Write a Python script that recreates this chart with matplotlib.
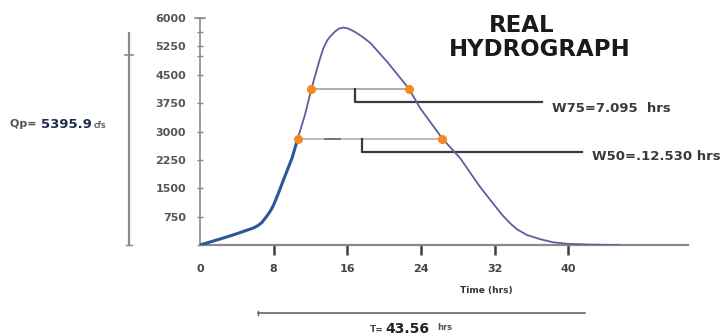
import numpy as np
import matplotlib
matplotlib.use("Agg")
import matplotlib.pyplot as plt

# Observed runoff hydrograph (time in hrs, discharge in cfs)
time_hrs = [0, 1.45, 3, 4.15, 5.2, 5.8, 6.3, 6.7, 7.25, 7.7, 8, 8.5, 9, 9.5,
            10, 10.6, 11.4, 12.1, 13, 13.4, 13.8, 14.1, 14.7, 15.1, 15.6,
            16.1, 16.7, 17.6, 18.5, 20.3, 22.7, 23.9, 26.3, 28.3, 30.4, 32.8,
            33.7, 34.4, 35.5, 37, 38.4, 40, 42.5, 45.5]
flow_cfs = [0, 105, 220, 310, 400, 450, 515, 590, 760, 920, 1060, 1360,
            1680, 1990, 2300, 2800, 3440, 4130, 4900, 5200, 5400, 5500, 5650,
            5720, 5750, 5720, 5650, 5510, 5340, 4850, 4130, 3620, 2820, 2280,
            1540, 800, 570, 420, 265, 150, 70, 30, 10, 0]

x_ticks = [0, 8, 16, 24, 32, 40]
y_ticks = [0, 750, 1500, 2250, 3000, 3750, 4500, 5250, 6000]
y_tick_labels = ["", "750", "1500", "2250", "3000", "3750", "4500", "5250", "6000"]

q_peak = 5395.9
q75_level = 4120
q50_level = 2810
w75_hrs = 7.095
w50_hrs = 12.530
base_time = 43.56

t = np.array(time_hrs, dtype=float)
q = np.array(flow_cfs, dtype=float)
ipk = int(np.argmax(q))


def crossings(level):
    # rising limb and falling limb times at a given discharge
    t_up = np.interp(level, q[:ipk + 1], t[:ipk + 1])
    t_dn = np.interp(level, q[ipk:][::-1], t[ipk:][::-1])
    return t_up, t_dn


W, H = 724, 336
fig = plt.figure(figsize=(W / 100, H / 100), dpi=100)
ax = fig.add_axes([200 / W, 91 / H, 488 / W, 227 / H])
ax.set_xlim(0, 53)
ax.set_ylim(0, 6000)

for s in ["top", "right"]:
    ax.spines[s].set_visible(False)
ax.spines["left"].set_color("#8a8a8a")
ax.spines["bottom"].set_color("#8a8a8a")
ax.spines["left"].set_linewidth(1.2)
ax.spines["bottom"].set_linewidth(1.6)

# hydrograph, darker on the lower rising limb
split = time_hrs.index(10.6)
ax.plot(t[:split + 1], q[:split + 1], color="#2b5797", lw=2.2,
        solid_capstyle="round", solid_joinstyle="round", zorder=3)
ax.plot(t[split:], q[split:], color="#5c5f9f", lw=1.3,
        solid_joinstyle="round", zorder=3)

# W75 / W50 width lines
t75a, t75b = crossings(q75_level)
t50a, t50b = crossings(q50_level)
ax.plot([t75a, t75b], [q75_level, q75_level], color="#a0a0a0", lw=1.2, zorder=2)
ax.plot([t50a, t50b], [q50_level, q50_level], color="#b0b0b0", lw=1.2, zorder=2)
ax.plot([13.6, 15.2], [q50_level, q50_level], color="#666666", lw=1.2, zorder=2)
ax.plot([t75a, t75b, t50a, t50b], [q75_level, q75_level, q50_level, q50_level],
        "o", color="#f5891f", ms=5.5, zorder=4)

# leader brackets to the width labels
ax.plot([16.85, 16.85, 37.1], [q75_level, 3788, 3788], color="#3c3c3c",
        lw=1.6, clip_on=False)
ax.plot([17.6, 17.6, 41.5], [q50_level, 2466, 2466], color="#3c3c3c",
        lw=1.6, clip_on=False)

# y axis ticks
ax.set_yticks(y_ticks)
ax.set_yticklabels(y_tick_labels)
ax.set_yticks([4990, 5625], minor=True)
ax.tick_params(axis="y", which="both", direction="inout", length=4, width=1,
               color="#8a8a8a", pad=8, labelsize=8, labelcolor="#555555")
ax.plot([-0.5, 0.5], [6000, 6000], color="#8a8a8a", lw=1.2, clip_on=False)

# x axis ticks
ax.set_xticks(x_ticks)
ax.tick_params(axis="x", direction="out", length=7, width=1.8,
               color="#404040", pad=7, labelsize=8, labelcolor="#444444")
ax.xaxis.get_major_ticks()[0].tick1line.set_visible(False)
for lab in ax.get_xticklabels() + ax.get_yticklabels():
    lab.set_fontweight("bold")

# peak discharge dimension bar on the left
bar_x = -7.7
ax.plot([bar_x, bar_x], [0, 5604], color="#8a8a8a", lw=1.6, clip_on=False)
ax.plot([bar_x - 0.4, bar_x + 0.4], [5022, 5022], color="#8a8a8a", lw=1.2,
        clip_on=False)
ax.plot([bar_x - 0.3, bar_x + 0.3], [0, 0], color="#8a8a8a", lw=1.0,
        clip_on=False)

# base time dimension bar underneath
ax.plot([6.3, 41.85], [-1797, -1797], color="#666666", lw=1.2, clip_on=False)
ax.plot([6.3, 6.3], [-1850, -1744], color="#666666", lw=1.0, clip_on=False)


def ftext(px, py, s, **kw):
    fig.text(px / W, 1 - py / H, s, **kw)


ftext(522, 25, "REAL", ha="center", va="center", fontsize=16.5,
      fontweight="bold", color="#1a1a1a")
ftext(540, 50, "HYDROGRAPH", ha="center", va="center", fontsize=16.5,
      fontweight="bold", color="#1a1a1a")

ftext(552, 108, f"W75={w75_hrs:.3f}  hrs", ha="left", va="center",
      fontsize=9.5, fontweight="bold", color="#3a3a3a")
ftext(592, 157, f"W50=.{w50_hrs:.3f} hrs", ha="left", va="center",
      fontsize=9.5, fontweight="bold", color="#3a3a3a")

ftext(40, 124, "Qp= ", ha="right", va="center", fontsize=8,
      fontweight="bold", color="#555555")
ftext(41, 124, f"{q_peak:.1f}", ha="left", va="center", fontsize=9.5,
      fontweight="bold", color="#1f2d4a")
ftext(94, 125, "cfs", ha="left", va="center", fontsize=5.5,
      fontweight="bold", color="#666666")

ftext(486, 290, "Time (hrs)", ha="center", va="center", fontsize=6.5,
      fontweight="bold", color="#333333")

ftext(384, 329, "T=", ha="right", va="center", fontsize=6.5,
      fontweight="bold", color="#444444")
ftext(385, 329, f"{base_time:.2f}", ha="left", va="center", fontsize=10,
      fontweight="bold", color="#222222")
ftext(437, 328, "hrs", ha="left", va="center", fontsize=6,
      fontweight="bold", color="#555555")

fig.savefig("out.png", dpi=100)
